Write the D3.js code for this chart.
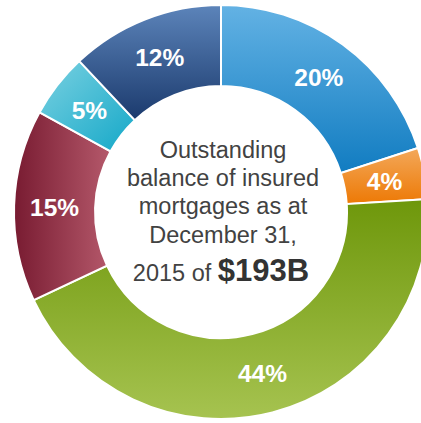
<!DOCTYPE html>
<html>
<head>
<meta charset="utf-8">
<script src="https://cdn.jsdelivr.net/npm/d3@7"></script>
<style>
  html, body { margin: 0; padding: 0; background: #fff; }
  #chart { width: 421px; height: 423px; overflow: hidden; }
  text { font-family: 'Liberation Sans', Arial, sans-serif; }
</style>
</head>
<body>
<div id="chart"></div>
<script>
// Slice shares, clockwise from 12 o'clock
const shares = [20, 4, 44, 15, 5, 12];
const sliceKeys = ['blue', 'orange', 'green', 'red', 'cyan', 'navy'];

// Centre caption
const captionLines = ['Outstanding', 'balance of insured', 'mortgages as at', 'December 31,'];
const captionLast = '2015 of ';
const captionTotal = '$193B';

// Gradient per slice: [start colour, end colour, x1, y1, x2, y2]
const gradients = {
  blue:   ['#63b2e4', '#117cc1', 0, 0, 0, 1],
  orange: ['#f3a85a', '#ed7905', 0, 0, 0, 1],
  green:  ['#6e970b', '#a6c350', 0, 0, 0, 1],
  red:    ['#781b31', '#b5596b', 0, 0, 1, 0],
  cyan:   ['#7bd1e1', '#14a8c8', 0, 0, 1, 1],
  navy:   ['#5c84ba', '#1b3a6d', 0, 0, 0, 1],
};

const width = 421;
const height = 423;
const cx = 221;
const cy = 212;
const outerR = 207;
const innerR = 126;

const svg = d3
  .select('#chart')
  .append('svg')
  .attr('width', width)
  .attr('height', height);

// Gradient definitions
const defs = svg.append('defs');
sliceKeys.forEach((k) => {
  const g = gradients[k];
  const lg = defs
    .append('linearGradient')
    .attr('id', `grad-${k}`)
    .attr('x1', g[2])
    .attr('y1', g[3])
    .attr('x2', g[4])
    .attr('y2', g[5]);
  lg.append('stop').attr('offset', '0%').attr('stop-color', g[0]);
  lg.append('stop').attr('offset', '100%').attr('stop-color', g[1]);
});

const pie = d3.pie().sort(null).value((d) => d);
const arc = d3.arc().innerRadius(innerR).outerRadius(outerR);

const g = svg.append('g').attr('transform', `translate(${cx},${cy})`);

const slices = g
  .selectAll('g.slice')
  .data(pie(shares))
  .enter()
  .append('g')
  .attr('class', 'slice');

slices
  .append('path')
  .attr('d', arc)
  .attr('fill', (d, i) => `url(#grad-${sliceKeys[i]})`)
  .attr('stroke', '#fff')
  .attr('stroke-width', 2);

// Percentage labels
slices
  .append('text')
  .attr('x', (d) => arc.centroid(d)[0])
  .attr('y', (d) => arc.centroid(d)[1] + 9)
  .attr('text-anchor', 'middle')
  .attr('fill', '#fff')
  .attr('font-weight', 'bold')
  .attr('font-size', '24.5px')
  .text((d) => `${d.data}%`);

// Centre caption
const lineY = [-54, -26, 2, 31];
g.selectAll('text.caption')
  .data(captionLines)
  .enter()
  .append('text')
  .attr('class', 'caption')
  .attr('x', 2)
  .attr('y', (d, i) => lineY[i])
  .attr('text-anchor', 'middle')
  .attr('fill', '#424242')
  .attr('font-size', '23.5px')
  .text((d) => d);

const last = g
  .append('text')
  .attr('x', 0)
  .attr('y', 69)
  .attr('text-anchor', 'middle')
  .attr('fill', '#424242');
last.append('tspan').attr('font-size', '23.5px').text(captionLast);
last
  .append('tspan')
  .attr('font-size', '31px')
  .attr('font-weight', 'bold')
  .attr('fill', '#333')
  .text(captionTotal);
</script>
</body>
</html>
